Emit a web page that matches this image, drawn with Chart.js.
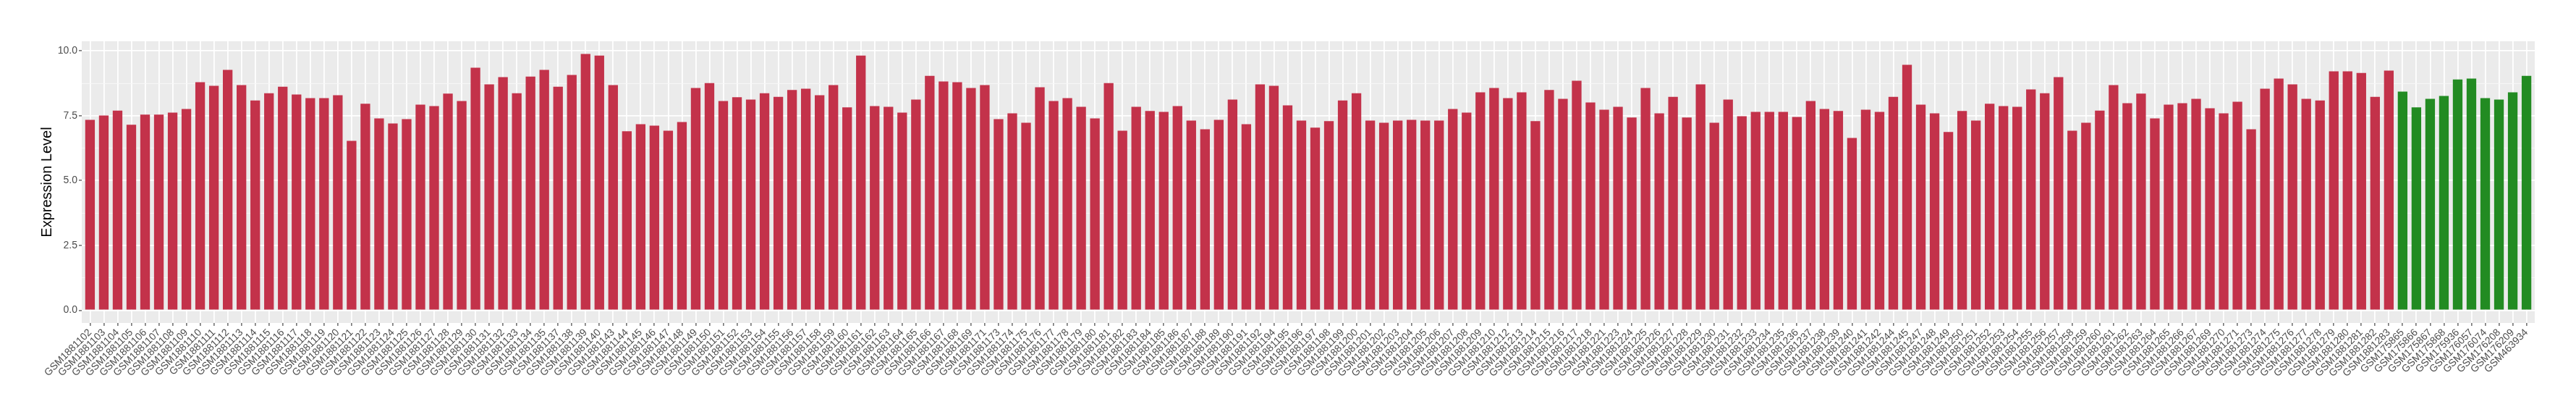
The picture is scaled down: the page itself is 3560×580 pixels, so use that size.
<!DOCTYPE html>
<html lang="en">
<head>
<meta charset="UTF-8">
<title>Expression Level per Sample</title>
<script src="https://cdn.jsdelivr.net/npm/chart.js"></script>
<style>
    body { margin: 0; background: #fff; }
    #wrap { width: 3560px; height: 580px; }
</style>
</head>
<body>
<div id="wrap"><canvas id="exprChart" width="3560" height="580"></canvas></div>
<script>
// samples of the first group (red bars)
const tumorSamples = [
    'GSM1881102','GSM1881103','GSM1881104','GSM1881105','GSM1881106','GSM1881107','GSM1881108','GSM1881109',
    'GSM1881110','GSM1881111','GSM1881112','GSM1881113','GSM1881114','GSM1881115','GSM1881116','GSM1881117',
    'GSM1881118','GSM1881119','GSM1881120','GSM1881121','GSM1881122','GSM1881123','GSM1881124','GSM1881125',
    'GSM1881126','GSM1881127','GSM1881128','GSM1881129','GSM1881130','GSM1881131','GSM1881132','GSM1881133',
    'GSM1881134','GSM1881135','GSM1881137','GSM1881138','GSM1881139','GSM1881140','GSM1881143','GSM1881144',
    'GSM1881145','GSM1881146','GSM1881147','GSM1881148','GSM1881149','GSM1881150','GSM1881151','GSM1881152',
    'GSM1881153','GSM1881154','GSM1881155','GSM1881156','GSM1881157','GSM1881158','GSM1881159','GSM1881160',
    'GSM1881161','GSM1881162','GSM1881163','GSM1881164','GSM1881165','GSM1881166','GSM1881167','GSM1881168',
    'GSM1881169','GSM1881171','GSM1881173','GSM1881174','GSM1881175','GSM1881176','GSM1881177','GSM1881178',
    'GSM1881179','GSM1881180','GSM1881181','GSM1881182','GSM1881183','GSM1881184','GSM1881185','GSM1881186',
    'GSM1881187','GSM1881188','GSM1881189','GSM1881190','GSM1881191','GSM1881192','GSM1881194','GSM1881195',
    'GSM1881196','GSM1881197','GSM1881198','GSM1881199','GSM1881200','GSM1881201','GSM1881202','GSM1881203',
    'GSM1881204','GSM1881205','GSM1881206','GSM1881207','GSM1881208','GSM1881209','GSM1881210','GSM1881212',
    'GSM1881213','GSM1881214','GSM1881215','GSM1881216','GSM1881217','GSM1881218','GSM1881221','GSM1881223',
    'GSM1881224','GSM1881225','GSM1881226','GSM1881227','GSM1881228','GSM1881229','GSM1881230','GSM1881231',
    'GSM1881232','GSM1881233','GSM1881234','GSM1881235','GSM1881236','GSM1881237','GSM1881238','GSM1881239',
    'GSM1881240','GSM1881241','GSM1881242','GSM1881244','GSM1881245','GSM1881247','GSM1881248','GSM1881249',
    'GSM1881250','GSM1881251','GSM1881252','GSM1881253','GSM1881254','GSM1881255','GSM1881256','GSM1881257',
    'GSM1881258','GSM1881259','GSM1881260','GSM1881261','GSM1881262','GSM1881263','GSM1881264','GSM1881265',
    'GSM1881266','GSM1881267','GSM1881269','GSM1881270','GSM1881271','GSM1881273','GSM1881274','GSM1881275',
    'GSM1881276','GSM1881277','GSM1881278','GSM1881279','GSM1881280','GSM1881281','GSM1881282','GSM1881283'
];
const tumorValues = [
    7.34, 7.51, 7.70, 7.15, 7.54, 7.54, 7.62, 7.76,
    8.79, 8.65, 9.27, 8.68, 8.09, 8.37, 8.62, 8.32,
    8.18, 8.18, 8.29, 6.53, 7.96, 7.40, 7.20, 7.37,
    7.93, 7.87, 8.35, 8.07, 9.35, 8.71, 8.99, 8.37,
    9.01, 9.27, 8.62, 9.07, 9.88, 9.82, 8.68, 6.90,
    7.17, 7.12, 6.92, 7.26, 8.57, 8.76, 8.07, 8.21,
    8.12, 8.37, 8.23, 8.49, 8.54, 8.29, 8.68, 7.82,
    9.82, 7.87, 7.84, 7.62, 8.12, 9.04, 8.82, 8.79,
    8.57, 8.68, 7.37, 7.59, 7.23, 8.60, 8.07, 8.18,
    7.84, 7.40, 8.76, 6.92, 7.84, 7.68, 7.65, 7.87,
    7.31, 6.98, 7.34, 8.12, 7.17, 8.71, 8.65, 7.90,
    7.31, 7.04, 7.29, 8.09, 8.37, 7.31, 7.23, 7.31,
    7.34, 7.31, 7.31, 7.76, 7.62, 8.40, 8.57, 8.18,
    8.40, 7.29, 8.49, 8.15, 8.85, 8.01, 7.73, 7.84,
    7.43, 8.57, 7.59, 8.23, 7.43, 8.71, 7.23, 8.12,
    7.48, 7.65, 7.65, 7.65, 7.45, 8.07, 7.76, 7.68,
    6.64, 7.73, 7.65, 8.23, 9.46, 7.93, 7.59, 6.87,
    7.68, 7.31, 7.96, 7.87, 7.84, 8.51, 8.37, 8.99,
    6.92, 7.23, 7.70, 8.68, 7.98, 8.35, 7.40, 7.93,
    7.98, 8.15, 7.79, 7.59, 8.04, 6.98, 8.54, 8.93,
    8.71, 8.15, 8.09, 9.21, 9.21, 9.15, 8.23, 9.24
];

// samples of the second group (green bars)
const normalSamples = [
    'GSM175865','GSM175866','GSM175867','GSM175868','GSM175936',
    'GSM176057','GSM176074','GSM176208','GSM176209','GSM463934'
];
const normalValues = [8.43, 7.82, 8.15, 8.26, 8.90, 8.93, 8.18, 8.12, 8.40, 9.04];

const yMajorTicks = [0, 2.5, 5, 7.5, 10];
const yMinorTicks = [1.25, 3.75, 6.25, 8.75];

const sampleLabels = tumorSamples.concat(normalSamples);
const sampleValues = tumorValues.concat(normalValues);
const barColors = sampleLabels.map((_, i) => i < tumorSamples.length ? '#C3324A' : '#228B22');

Chart.defaults.font.family = "'Liberation Sans', Arial, Helvetica, sans-serif";

// grey panel behind the bars, like ggplot's theme_gray
const panelBackground = {
    id: 'panelBackground',
    beforeDraw(chart) {
        const { ctx, chartArea: a } = chart;
        ctx.save();
        ctx.fillStyle = '#ffffff';
        ctx.fillRect(0, 0, chart.width, chart.height);
        ctx.fillStyle = '#EBEBEB';
        ctx.fillRect(a.left, a.top, a.right - a.left, a.bottom - a.top);
        ctx.restore();
    }
};

const isMajor = v => yMajorTicks.includes(v);

new Chart(document.getElementById('exprChart'), {
    type: 'bar',
    data: {
        datasets: [{
            data: sampleValues.map((v, i) => ({ x: i, y: v })),
            backgroundColor: barColors,
            barPercentage: 0.7,
            categoryPercentage: 1.0
        }]
    },
    options: {
        responsive: false,
        animation: false,
        layout: { padding: { top: 57, right: 57, left: 0, bottom: 0 } },
        plugins: {
            legend: { display: false },
            tooltip: { enabled: false }
        },
        scales: {
            x: {
                type: 'linear',
                min: -0.6,
                max: sampleLabels.length - 0.4,
                offset: false,
                afterBuildTicks: axis => {
                    axis.ticks = sampleLabels.map((_, i) => ({ value: i }));
                },
                afterFit: axis => { axis.height = 134; },
                border: { display: false },
                grid: {
                    offset: false,
                    color: '#ffffff',
                    lineWidth: 1.8,
                    tickColor: '#333333',
                    tickLength: 4,
                    tickWidth: 1.1
                },
                ticks: {
                    autoSkip: false,
                    minRotation: 45,
                    maxRotation: 45,
                    padding: 1,
                    color: '#4D4D4D',
                    font: { size: 14 },
                    callback: v => sampleLabels[v]
                }
            },
            y: {
                min: -0.49,
                max: 10.37,
                afterBuildTicks: axis => {
                    axis.ticks = yMajorTicks.concat(yMinorTicks).sort((a, b) => a - b).map(v => ({ value: v }));
                },
                afterFit: axis => { axis.width = 113; },
                border: { display: false },
                grid: {
                    color: ctx => isMajor(ctx.tick.value) ? '#ffffff' : '#F7F7F7',
                    lineWidth: ctx => isMajor(ctx.tick.value) ? 1.8 : 0.9,
                    tickColor: ctx => isMajor(ctx.tick.value) ? '#333333' : 'rgba(0,0,0,0)',
                    tickLength: 4,
                    tickWidth: 1.1
                },
                ticks: {
                    padding: 2,
                    color: '#4D4D4D',
                    font: { size: 14 },
                    callback: v => isMajor(v) ? v.toFixed(1) : ''
                },
                title: {
                    display: true,
                    text: 'Expression Level',
                    color: '#000000',
                    font: { size: 20 },
                    padding: { top: 53, bottom: 0 }
                }
            }
        }
    },
    plugins: [panelBackground]
});
</script>
</body>
</html>
